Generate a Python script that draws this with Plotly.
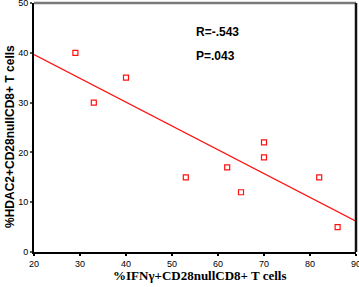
import numpy as np
import plotly.graph_objects as go

ifng = [29, 33, 40, 53, 62, 65, 70, 70, 82, 86]
hdac2 = [40, 30, 35, 15, 17, 12, 22, 19, 15, 5]
x_ticks = [20, 30, 40, 50, 60, 70, 80, 90]
y_ticks = [0, 10, 20, 30, 40, 50]
x_range = [20, 90]
y_range = [0, 50]
stats_text = ["R=-.543", "P=.043"]
x_title = "%IFNγ+CD28nullCD8+ T cells"
y_title = "%HDAC2+CD28nullCD8+ T cells"

slope, intercept = np.polyfit(ifng, hdac2, 1)
fit_x = np.array(x_range, dtype=float)
fit_y = slope * fit_x + intercept

fig = go.Figure()
fig.add_trace(go.Scatter(x=fit_x, y=fit_y, mode="lines",
                         line=dict(color="#ff1010", width=1.3),
                         hoverinfo="skip", cliponaxis=False))
fig.add_trace(go.Scatter(x=ifng, y=hdac2, mode="markers",
                         marker=dict(symbol="square-open", size=5,
                                     color="#ff1010",
                                     line=dict(width=1.2, color="#ff1010")),
                         cliponaxis=False))

W, H = 359, 287
L, R, T, B = 34, 3, 3, 35
pw, ph = W - L - R, H - T - B

fig.update_layout(
    template="none",
    width=W, height=H,
    margin=dict(l=L, r=R, t=T, b=B, pad=0, autoexpand=False),
    paper_bgcolor="white", plot_bgcolor="white",
    showlegend=False,
    font=dict(family="Arial, Liberation Sans, sans-serif", color="black"),
)
fig.update_xaxes(range=x_range, tickvals=x_ticks, ticktext=[str(v) for v in x_ticks],
                 automargin=False, ticklabeloverflow="allow",
                 showgrid=False, zeroline=False, showline=True,
                 linecolor="black", linewidth=2, ticks="outside",
                 ticklen=2, tickwidth=2, tickcolor="black",
                 tickfont=dict(size=9, family="Arial, Liberation Sans, sans-serif"))
fig.update_yaxes(range=y_range, tickvals=y_ticks, ticktext=[str(v) for v in y_ticks],
                 automargin=False, ticklabeloverflow="allow",
                 showgrid=False, zeroline=False, showline=True,
                 linecolor="black", linewidth=2, ticks="outside",
                 ticklen=2, tickwidth=1.5, tickcolor="#555",
                 tickfont=dict(size=9, family="Arial, Liberation Sans, sans-serif"))

# top (grey) and right (dark) borders of the plot frame
fig.add_shape(type="line", xref="x domain", yref="y domain", x0=0, x1=1, y0=1, y1=1,
              line=dict(color="#7a7a7a", width=2.5), layer="above")
fig.add_shape(type="line", xref="x domain", yref="y domain", x0=1, x1=1, y0=0, y1=1,
              line=dict(color="#111111", width=2.5), layer="above")

# stats text
fig.add_annotation(text="<b>" + stats_text[0] + "</b>", xref="paper", yref="paper",
                   x=(194 - L) / pw, y=1 - (32 - T) / ph, xanchor="left", yanchor="middle",
                   showarrow=False, font=dict(size=12, family="Arial, Liberation Sans, sans-serif"))
fig.add_annotation(text="<b>" + stats_text[1] + "</b>", xref="paper", yref="paper",
                   x=(194 - L) / pw, y=1 - (56 - T) / ph, xanchor="left", yanchor="middle",
                   showarrow=False, font=dict(size=12, family="Arial, Liberation Sans, sans-serif"))

# axis titles
fig.add_annotation(text="<b>" + x_title + "</b>", xref="paper", yref="paper",
                   x=(200 - L) / pw, y=1 - (275 - T) / ph, xanchor="center", yanchor="middle",
                   showarrow=False,
                   font=dict(size=13, family="Liberation Serif, Times New Roman, serif"))
fig.add_annotation(text="<b>" + y_title + "</b>", xref="paper", yref="paper",
                   x=(10 - L) / pw, y=1 - (137 - T) / ph, xanchor="center", yanchor="middle",
                   textangle=-90, showarrow=False,
                   font=dict(size=12, family="Arial, Liberation Sans, sans-serif"))

fig.write_html("out.html", config={"displayModeBar": False},
               post_script="document.body.style.margin='0px';document.body.style.overflow='hidden';")
